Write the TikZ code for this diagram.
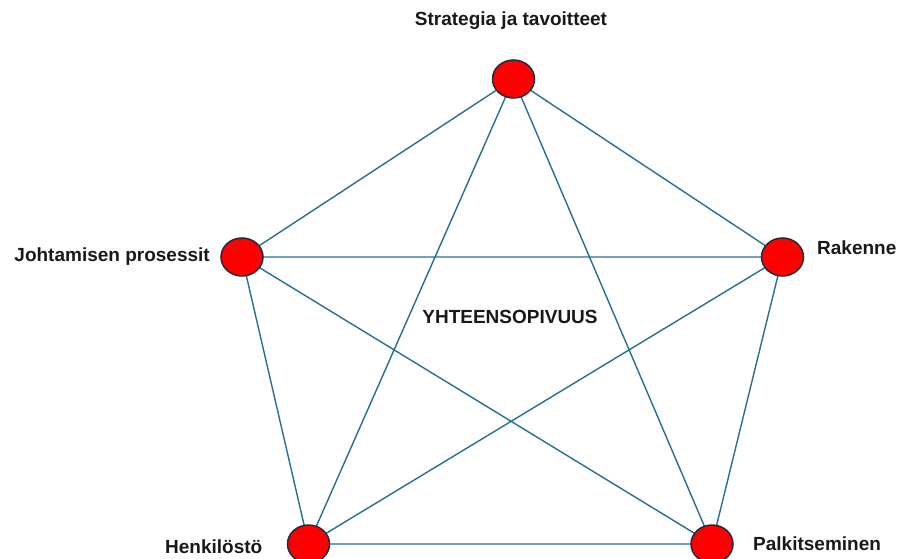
\documentclass[tikz,border=0pt]{standalone}
\usepackage{fontspec}
\setmainfont{Liberation Sans}
\usetikzlibrary{shapes.geometric}
\definecolor{edgec}{RGB}{38,110,146}
\definecolor{rimc}{RGB}{30,45,60}
\begin{document}
\begin{tikzpicture}[x=1pt,y=-1pt,
  vtx/.style={ellipse,draw=rimc,line width=1.5pt,fill=red,minimum width=42pt,minimum height=38pt,inner sep=0pt},
  lbl/.style={font=\fontsize{19}{22}\selectfont\bfseries,inner sep=0pt,text=black!90},
  edge/.style={draw=edgec,line width=1.4pt}]
\path[use as bounding box] (0,0) rectangle (899,559);
\coordinate (S) at (513.5,79);
\coordinate (J) at (242,257);
\coordinate (R) at (782.5,257);
\coordinate (H) at (308.5,544);
\coordinate (P) at (712,544);
\draw[edge] (S) -- (J) (S) -- (R) (S) -- (H) (S) -- (P)
            (J) -- (R) (J) -- (H) (J) -- (P)
            (R) -- (H) (R) -- (P) (H) -- (P);
\node[vtx] (nS) at (S) {};
\node[vtx] (nJ) at (J) {};
\node[vtx] (nR) at (R) {};
\node[vtx] (nH) at (H) {};
\node[vtx] (nP) at (P) {};
\node[lbl] (tS) at (511,21) {Strategia ja tavoitteet};
\node[lbl,anchor=east] (tJ) at (210,257) {Johtamisen prosessit};
\node[lbl,anchor=west] (tR) at (817,248) {Rakenne};
\node[lbl,anchor=west] (tH) at (165,547) {Henkilöstö};
\node[lbl,anchor=west] (tP) at (753,544) {Palkitseminen};
\node[lbl] (tY) at (510,317) {YHTEENSOPIVUUS};
\end{tikzpicture}
\end{document}
